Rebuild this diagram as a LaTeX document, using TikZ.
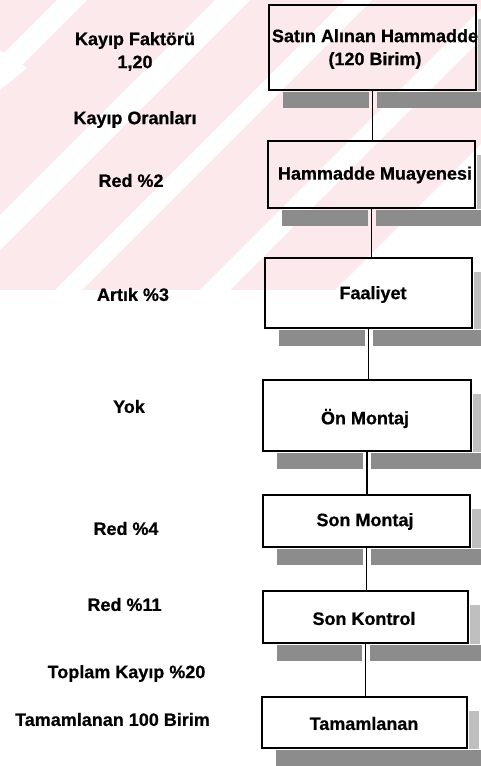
\documentclass[tikz,border=0pt]{standalone}
\usepackage{fontspec}
\setmainfont{Liberation Sans}[BoldFeatures={FakeBold=0.6}]
\usetikzlibrary{backgrounds}
\definecolor{wm}{RGB}{252,233,236}
\begin{document}
\begin{tikzpicture}[x=1pt,y=-1pt,
  box/.style={draw=black, line width=1.7pt, inner sep=0pt},
  lbl/.style={font=\bfseries\fontsize{18}{23}\selectfont, align=center, inner sep=0pt},
  shb/.style={fill=black!45},
  shr/.style={fill=black!25},
  link/.style={line width=1.6pt}]
\useasboundingbox (0,0) rectangle (481,766);
% boxes
\node[box, minimum width=207pt, minimum height=85pt] (b1) at (372.5,47.5) {};
\node[box, minimum width=207pt, minimum height=67pt] (b2) at (371.5,174.5) {};
\node[box, minimum width=207pt, minimum height=70pt] (b3) at (368.5,293) {};
\node[box, minimum width=208pt, minimum height=71pt] (b4) at (367,415.5) {};
\node[box, minimum width=207pt, minimum height=52pt] (b5) at (366.5,521) {};
\node[box, minimum width=205pt, minimum height=52pt] (b6) at (365.5,617) {};
\node[box, minimum width=205pt, minimum height=51pt] (b7) at (364.5,722.5) {};
% box texts
\node[lbl] (t1) at (375,49) {Satın Alınan Hammadde\\(120 Birim)};
\node[lbl] (t2) at (375,175) {Hammadde Muayenesi};
\node[lbl] (t3) at (373,294.5) {Faaliyet};
\node[lbl] (t4) at (365,418.5) {Ön Montaj};
\node[lbl] (t5) at (365,521.5) {Son Montaj};
\node[lbl] (t6) at (364,618.5) {Son Kontrol};
\node[lbl] (t7) at (364,723.5) {Tamamlanan};
% left labels
\node[lbl] (l1) at (135,51.5) {Kayıp Faktörü\\1,20};
\node[lbl] (l2) at (135,119.5) {Kayıp Oranları};
\node[lbl] (l3) at (131,180.5) {Red \%2};
\node[lbl] (l4) at (133,294.5) {Artık \%3};
\node[lbl] (l5) at (129,406.5) {Yok};
\node[lbl] (l6) at (126,528.5) {Red \%4};
\node[lbl] (l7) at (124.5,604.5) {Red \%11};
\node[lbl] (l8) at (126.5,673.5) {Toplam Kayıp \%20};
\node[lbl] (l9) at (112.5,719.5) {Tamamlanan 100 Birim};
% watermark and shadows
\begin{scope}[on background layer]
  \begin{scope}
    \clip (0,0) -- (481,0) -- (481,144) -- (335,290) -- (0,290) -- cycle;
    \fill[wm] (0,0) rectangle (481,290);
    \foreach \a/\b in {57/87, 215/250, 345/372, 490/520}
      \fill[white] (\a,0) -- (\b,0) -- (\b-300,300) -- (\a-300,300) -- cycle;
    \fill[white] (0,50) -- (27,68) -- (0,90) -- cycle;
  \end{scope}
  \foreach \n in {b1,b2,b3,b4,b5,b6} {
    \fill[shb] ([xshift=15pt,yshift=-0.8pt]\n.south west) rectangle ([xshift=-4pt,yshift=-17pt]\n.south);
    \fill[shb] ([xshift=4pt,yshift=-0.8pt]\n.south) rectangle ([xshift=14pt,yshift=-17pt]\n.south east);
    \fill[shr] ([xshift=1.5pt,yshift=-15pt]\n.north east) rectangle ([xshift=11pt]\n.south east);
  }
  \fill[shb] ([xshift=15pt,yshift=-0.8pt]b7.south west) rectangle ([xshift=14pt,yshift=-18pt]b7.south east);
  \fill[shr] ([xshift=1.5pt,yshift=-15pt]b7.north east) rectangle ([xshift=11pt]b7.south east);
\end{scope}
% connectors
\draw[link] (b1.south) -- (b1.south |- b2.north);
\draw[link] (b2.south) -- (b2.south |- b3.north);
\draw[link] (b3.south) -- (b3.south |- b4.north);
\draw[link] (b4.south) -- (b4.south |- b5.north);
\draw[link] (b5.south) -- (b5.south |- b6.north);
\draw[link] (b6.south) -- (b6.south |- b7.north);
\end{tikzpicture}
\end{document}
